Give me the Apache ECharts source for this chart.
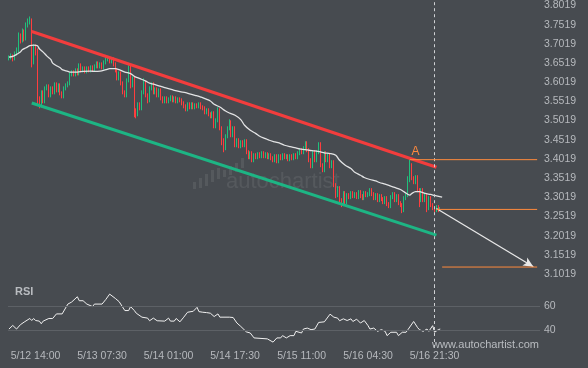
<!DOCTYPE html>
<html><head><meta charset="utf-8">
<script src="https://cdn.jsdelivr.net/npm/echarts@6/dist/echarts.min.js"></script>
<style>html,body{margin:0;padding:0;background:#474b50;}#c{width:588px;height:368px;}</style>
</head><body><div id="c"></div>
<script>
// ---- data ----
const tickIdx = [14, 49, 84, 119, 154, 189, 224];
const tickLabels = ['5/12 14:00', '5/13 07:30', '5/14 01:00', '5/14 17:30', '5/15 11:00', '5/16 04:30', '5/16 21:30'];
const slotCount = 280;

const firstOpen = 3.6640;
const closes = [3.6666,3.6718,3.6640,3.6770,3.6848,3.7238,3.7108,3.7368,3.7160,3.7524,
3.7577,3.7655,3.6536,3.6952,3.6796,3.5599,3.5417,3.5755,3.5521,3.5859,
3.5911,3.5677,3.5859,3.5755,3.5963,3.5807,3.5937,3.5729,3.5651,3.5859,
3.5937,3.5989,3.6223,3.6275,3.6223,3.6327,3.6249,3.6458,3.6327,3.6380,
3.6301,3.6380,3.6327,3.6406,3.6354,3.6432,3.6510,3.6432,3.6484,3.6406,
3.6536,3.6614,3.6640,3.6562,3.6614,3.6484,3.6327,3.6119,3.6249,3.5989,
3.5755,3.5677,3.6067,3.6406,3.5937,3.6119,3.5287,3.5183,3.5443,3.5339,
3.5755,3.6015,3.5677,3.5547,3.5859,3.5963,3.5755,3.5833,3.5677,3.5807,
3.5599,3.5521,3.5599,3.5521,3.5573,3.5625,3.5547,3.5599,3.5521,3.5573,
3.5547,3.5469,3.5391,3.5313,3.5443,3.5365,3.5443,3.5365,3.5417,3.5391,
3.5443,3.5365,3.5339,3.5235,3.5287,3.5183,3.5131,3.5209,3.4870,3.5026,
3.5287,3.4818,3.4506,3.4298,3.4610,3.4818,3.4974,3.4636,3.4818,3.4376,
3.4506,3.4350,3.4454,3.4376,3.4480,3.4194,3.4064,3.4168,3.3985,3.4116,
3.4064,3.4142,3.4090,3.4168,3.4090,3.4142,3.4064,3.4116,3.4038,3.3985,
3.4090,3.3959,3.4090,3.4038,3.4116,3.4064,3.4090,3.4012,3.4090,3.4038,
3.4116,3.4064,3.4168,3.4246,3.4194,3.4298,3.4428,3.4246,3.3985,3.3829,
3.4194,3.3985,3.4194,3.4402,3.3855,3.3725,3.4168,3.3985,3.4116,3.3829,
3.3933,3.3335,3.3075,3.3257,3.2945,3.2841,3.3127,3.2893,3.3075,3.3023,
3.3127,3.3049,3.3101,3.3023,3.3153,3.3049,3.2997,3.3127,3.3075,3.3101,
3.3205,3.3101,3.2997,3.3075,3.2945,3.3049,3.2971,3.2893,3.2997,3.2841,
3.2789,3.3023,3.3101,3.2945,3.3049,3.2867,3.2815,3.2684,3.2997,3.3075,
3.3465,3.3777,3.3517,3.3413,3.3543,3.3205,3.2945,3.3205,3.2945,3.3075,
3.2737,3.2997,3.2815,3.2737,3.2684,3.2763,3.2684,3.2711];

const highs = [3.6718,3.6770,3.6744,3.6822,3.6926,3.7316,3.7290,3.7420,3.7394,3.7577,
3.7681,3.7733,3.7681,3.7004,3.7004,3.6900,3.5651,3.5807,3.5807,3.5911,
3.5963,3.5963,3.5911,3.5911,3.6015,3.6015,3.5989,3.5989,3.5781,3.5911,
3.5989,3.6041,3.6275,3.6327,3.6327,3.6380,3.6380,3.6510,3.6510,3.6432,
3.6432,3.6432,3.6432,3.6458,3.6458,3.6484,3.6562,3.6562,3.6536,3.6536,
3.6588,3.6666,3.6666,3.6692,3.6666,3.6666,3.6536,3.6380,3.6301,3.6301,
3.6041,3.5807,3.6119,3.6458,3.6458,3.6171,3.6171,3.5339,3.5495,3.5495,
3.5807,3.6119,3.6067,3.5729,3.5911,3.6015,3.6015,3.5885,3.5885,3.5859,
3.5859,3.5651,3.5651,3.5651,3.5625,3.5677,3.5677,3.5651,3.5651,3.5625,
3.5625,3.5599,3.5521,3.5443,3.5495,3.5495,3.5495,3.5495,3.5469,3.5469,
3.5495,3.5495,3.5417,3.5391,3.5339,3.5339,3.5235,3.5261,3.5261,3.5078,
3.5365,3.5339,3.4870,3.4558,3.4662,3.4870,3.5052,3.5026,3.4870,3.4870,
3.4558,3.4558,3.4506,3.4506,3.4532,3.4532,3.4246,3.4220,3.4220,3.4168,
3.4168,3.4194,3.4194,3.4220,3.4220,3.4194,3.4194,3.4168,3.4168,3.4090,
3.4142,3.4142,3.4142,3.4142,3.4168,3.4168,3.4142,3.4142,3.4142,3.4142,
3.4168,3.4168,3.4220,3.4298,3.4298,3.4350,3.4480,3.4480,3.4298,3.4038,
3.4246,3.4246,3.4246,3.4454,3.4454,3.3907,3.4220,3.4220,3.4168,3.4168,
3.3985,3.3985,3.3387,3.3309,3.3309,3.2997,3.3179,3.3179,3.3127,3.3127,
3.3179,3.3179,3.3153,3.3153,3.3205,3.3205,3.3101,3.3179,3.3179,3.3153,
3.3257,3.3257,3.3153,3.3127,3.3127,3.3101,3.3101,3.3023,3.3049,3.3049,
3.2893,3.3075,3.3153,3.3153,3.3101,3.3101,3.2919,3.2867,3.3049,3.3127,
3.3569,3.4012,3.3907,3.3569,3.3595,3.3595,3.3257,3.3257,3.3257,3.3127,
3.3127,3.3049,3.3049,3.2867,3.2789,3.2815,3.2815,3.2763];

const lows = [3.6588,3.6614,3.6562,3.6588,3.6718,3.6796,3.7030,3.7056,3.7082,3.7108,
3.7446,3.7524,3.6406,3.6484,3.6718,3.5443,3.5339,3.5365,3.5469,3.5469,
3.5807,3.5625,3.5625,3.5703,3.5703,3.5755,3.5755,3.5677,3.5599,3.5599,
3.5807,3.5885,3.5937,3.6171,3.6171,3.6171,3.6197,3.6197,3.6275,3.6275,
3.6249,3.6249,3.6275,3.6275,3.6301,3.6301,3.6380,3.6380,3.6380,3.6354,
3.6354,3.6484,3.6562,3.6510,3.6510,3.6432,3.6275,3.6067,3.6067,3.5937,
3.5703,3.5625,3.5625,3.6015,3.5859,3.5885,3.5105,3.5078,3.5131,3.5287,
3.5287,3.5703,3.5625,3.5469,3.5495,3.5807,3.5703,3.5703,3.5625,3.5625,
3.5547,3.5469,3.5469,3.5469,3.5469,3.5521,3.5495,3.5495,3.5469,3.5469,
3.5495,3.5417,3.5339,3.5261,3.5261,3.5313,3.5313,3.5313,3.5313,3.5339,
3.5339,3.5313,3.5287,3.5183,3.5183,3.5131,3.5078,3.5078,3.4818,3.4818,
3.4974,3.4766,3.4376,3.4194,3.4246,3.4558,3.4766,3.4584,3.4584,3.4324,
3.4324,3.4298,3.4298,3.4324,3.4324,3.4142,3.4012,3.4012,3.3933,3.3933,
3.4012,3.4012,3.4038,3.4038,3.4038,3.4038,3.4012,3.4012,3.3985,3.3933,
3.3933,3.3907,3.3907,3.3985,3.3985,3.4012,3.4012,3.3959,3.3959,3.3985,
3.3985,3.4012,3.4012,3.4116,3.4142,3.4142,3.4246,3.4194,3.3933,3.3777,
3.3777,3.3933,3.3933,3.4142,3.3803,3.3673,3.3673,3.3933,3.3933,3.3777,
3.3777,3.3283,3.2997,3.3023,3.2893,3.2763,3.2789,3.2841,3.2841,3.2971,
3.2971,3.2997,3.2997,3.2971,3.2971,3.2997,3.2945,3.2945,3.3023,3.3023,
3.3049,3.3049,3.2945,3.2945,3.2893,3.2893,3.2919,3.2841,3.2841,3.2789,
3.2737,3.2737,3.2971,3.2893,3.2893,3.2815,3.2763,3.2606,3.2632,3.2945,
3.3023,3.3413,3.3465,3.3361,3.3361,3.3153,3.2763,3.2893,3.2893,3.2893,
3.2632,3.2684,3.2763,3.2684,3.2632,3.2632,3.2632,3.2658];

// moving average (white line), read as [bar index, price]
const maLine = [[0,3.6674],[2,3.6692],[4,3.6744],[6,3.6804],[7,3.6866],[9,3.6918],[11,3.6970],[13,3.6986],[15,3.6970],[16,3.6892],[18,3.6804],[20,3.6700],[22,3.6614],[23,3.6517],[25,3.6450],[27,3.6398],[28,3.6346],[31,3.6301],[32,3.6283],[36,3.6283],[39,3.6301],[43,3.6309],[45,3.6301],[48,3.6309],[51,3.6346],[53,3.6372],[56,3.6372],[58,3.6346],[61,3.6283],[64,3.6242],[66,3.6171],[69,3.6111],[72,3.6049],[74,3.5997],[77,3.5955],[80,3.5911],[82,3.5877],[85,3.5841],[87,3.5807],[90,3.5773],[93,3.5747],[95,3.5716],[98,3.5677],[101,3.5633],[106,3.5529],[108,3.5443],[111,3.5372],[114,3.5268],[116,3.5216],[119,3.5157],[122,3.5045],[124,3.4896],[127,3.4766],[130,3.4680],[132,3.4610],[135,3.4550],[137,3.4506],[140,3.4462],[143,3.4420],[145,3.4376],[148,3.4337],[151,3.4306],[153,3.4280],[156,3.4264],[158,3.4246],[161,3.4228],[164,3.4202],[166,3.4176],[169,3.4160],[172,3.4116],[174,3.3985],[177,3.3855],[180,3.3769],[182,3.3673],[185,3.3595],[187,3.3535],[190,3.3483],[193,3.3447],[195,3.3405],[198,3.3361],[201,3.3309],[203,3.3275],[206,3.3223],[208,3.3161],[211,3.3075],[212,3.3119],[214,3.3166],[216,3.3166],[219,3.3119],[222,3.3093],[224,3.3067],[228,3.3023]];

// RSI read as [bar index, value]
const rsiLine = [[0,40.8],[1,40.8],[2,43.8],[3,44.4],[4,40.8],[6,44.4],[8,46.6],[9,47.9],[11,49.6],[12,47.9],[13,49.6],[14,47.9],[16,47.4],[17,45.2],[18,47.4],[21,49.6],[23,49.6],[25,53.4],[28,53.4],[31,61.6],[33,63.3],[36,67.7],[37,64.4],[39,64.4],[41,61.6],[44,59.5],[45,61.6],[49,61.6],[51,65.5],[53,69.9],[56,66.3],[58,63.6],[61,56.2],[63,56.2],[64,59.5],[66,56.2],[67,54.0],[70,50.7],[73,49.9],[74,47.7],[76,49.9],[78,47.7],[82,47.4],[84,49.9],[85,47.4],[87,47.4],[88,49.6],[90,46.8],[92,50.7],[94,54.8],[97,55.6],[99,58.9],[100,55.3],[102,54.8],[103,56.2],[104,54.5],[106,54.0],[108,51.2],[110,53.4],[111,50.7],[116,50.7],[118,50.4],[120,45.8],[122,43.0],[123,41.6],[125,38.4],[127,37.5],[129,33.4],[136,32.6],[137,32.1],[139,29.9],[141,33.4],[143,33.4],[144,35.3],[146,33.4],[148,35.3],[150,35.3],[151,38.9],[154,37.5],[155,40.8],[157,41.6],[159,40.3],[161,40.8],[163,46.3],[166,46.8],[167,47.9],[169,53.2],[171,50.7],[173,49.9],[174,47.7],[176,49.3],[178,47.9],[180,49.3],[181,47.1],[183,49.0],[185,45.8],[187,47.9],[189,43.6],[190,40.8],[192,41.6],[194,38.9],[196,40.3],[198,38.9],[199,35.3],[201,38.1],[204,38.1],[205,35.3],[207,38.1],[209,38.1],[210,40.3],[211,40.8],[213,47.1],[215,42.2],[216,40.3],[218,38.9],[220,40.8],[221,38.9],[223,43.6],[224,38.1],[226,40.3],[227,40.8]];

// pattern annotations
const channelUpper = [[12, 3.7342], [225, 3.3803]];
const channelLower = [[12, 3.5476], [225, 3.2034]];
const levelA = [[211, 3.4000], [278, 3.4000]];
const levelNow = [[225, 3.2703], [278, 3.2703]];
const levelTarget = [[228, 3.1201], [278, 3.1201]];
const arrowFrom = [225, 3.2728];
const arrowTo = [276, 3.1210];
const markerA = [214, 3.4000];
const nowIndex = 224;
const rsiLevels = [40, 60];

// ---- chart ----
const cats = Array.from({length: slotCount}, (_, i) => String(i));
const opens = [firstOpen].concat(closes.slice(0, -1));
const ohlc = closes.map((c, i) => [opens[i], c, lows[i], highs[i]]);

const FONT = "'Liberation Sans', Arial, sans-serif";
const LBL = '#b6b9bd';
const ORANGE = '#ff8a3d';

const chart = echarts.init(document.getElementById('c'), null, {renderer: 'canvas'});
const yMin = 3.0519, yStep = 0.05;
chart.setOption({
  animation: false,
  backgroundColor: '#474b50',
  textStyle: {fontFamily: FONT},
  grid: [
    {left: 8, right: 48, top: 0, height: 293.2},
    {left: 8, right: 48, top: 282, height: 66}
  ],
  xAxis: [
    {gridIndex: 0, type: 'category', data: cats, boundaryGap: true, show: false},
    {gridIndex: 1, type: 'category', data: cats, boundaryGap: true,
     axisLine: {show: false}, axisTick: {show: false}, splitLine: {show: false},
     axisLabel: {color: LBL, fontSize: 10.5, fontFamily: FONT, margin: 3,
       interval: (i) => tickIdx.indexOf(i) >= 0,
       formatter: (v, i) => { const k = tickIdx.indexOf(Number(v)); return k >= 0 ? tickLabels[k] : ''; }}}
  ],
  yAxis: [
    {gridIndex: 0, type: 'value', position: 'right', min: yMin, max: 3.8149, interval: yStep, scale: true,
     axisLine: {show: false}, axisTick: {show: false}, splitLine: {show: false},
     axisLabel: {color: LBL, fontSize: 10.5, fontFamily: FONT, margin: 4,
       formatter: (v) => { const k = (v - yMin) / yStep; if (v < 3.09 || v > 3.81 || Math.abs(k - Math.round(k)) > 0.01) return ''; return v.toFixed(4); }}},
    {gridIndex: 1, type: 'value', position: 'right', min: 25, max: 80, interval: 5,
     axisLine: {show: false}, axisTick: {show: false}, splitLine: {show: false},
     axisLabel: {color: LBL, fontSize: 10.5, fontFamily: FONT, margin: 4,
       formatter: (v) => (rsiLevels.indexOf(v) >= 0 ? String(v) : '')}}
  ],
  graphic: [
    {type: 'group', z: 0, silent: true, children: [
      {type: 'rect', shape: {x: 193, y: 182, width: 3, height: 7}, style: {fill: 'rgba(255,255,255,0.08)'}},
      {type: 'rect', shape: {x: 199, y: 178, width: 3, height: 10}, style: {fill: 'rgba(255,255,255,0.08)'}},
      {type: 'rect', shape: {x: 205, y: 174, width: 3, height: 12}, style: {fill: 'rgba(255,255,255,0.08)'}},
      {type: 'rect', shape: {x: 211, y: 170, width: 3, height: 12}, style: {fill: 'rgba(255,255,255,0.08)'}},
      {type: 'rect', shape: {x: 217, y: 168, width: 3, height: 11}, style: {fill: 'rgba(255,255,255,0.08)'}},
      {type: 'rect', shape: {x: 223, y: 170, width: 3, height: 7}, style: {fill: 'rgba(255,255,255,0.08)'}},
      {type: 'rect', shape: {x: 229, y: 166, width: 3, height: 9}, style: {fill: 'rgba(255,255,255,0.08)'}},
      {type: 'rect', shape: {x: 235, y: 163, width: 3, height: 9}, style: {fill: 'rgba(255,255,255,0.08)'}},
      {type: 'rect', shape: {x: 241, y: 158, width: 3, height: 10}, style: {fill: 'rgba(255,255,255,0.08)'}},
      {type: 'text', x: 226, y: 171, style: {text: 'autochartist', fill: 'rgba(255,255,255,0.08)', font: "22px 'Liberation Sans', Arial, sans-serif", textVerticalAlign: 'top'}}
    ]},
    {type: 'text', left: 15, top: 286, z: 10, style: {text: 'RSI', fill: '#b9bcc0', font: "bold 11px 'Liberation Sans', Arial, sans-serif"}},
    {type: 'text', left: 432, top: 339, z: 10, style: {text: 'www.autochartist.com', fill: '#b9bcc0', font: "11px 'Liberation Sans', Arial, sans-serif"}}
  ],
  series: [
    {type: 'candlestick', xAxisIndex: 0, yAxisIndex: 0, data: ohlc, barWidth: 1, z: 2,
     itemStyle: {color: '#1fc07c', color0: '#ff3e3e', borderColor: '#1fc07c', borderColor0: '#ff3e3e', borderWidth: 1},
     markLine: {silent: true, symbol: ['none', 'none'], label: {show: false},
       lineStyle: {color: '#cfd1d4', type: [3, 3], width: 1},
       data: [{xAxis: nowIndex}]}},
    {type: 'line', xAxisIndex: 0, yAxisIndex: 0, data: maLine, showSymbol: false, smooth: 0.3, z: 3,
     lineStyle: {color: '#e2e3e4', width: 1.3}},
    {type: 'line', xAxisIndex: 0, yAxisIndex: 0, data: channelUpper, showSymbol: false, z: 4,
     lineStyle: {color: '#f23d3d', width: 3}},
    {type: 'line', xAxisIndex: 0, yAxisIndex: 0, data: channelLower, showSymbol: false, z: 4,
     lineStyle: {color: '#1db584', width: 3}},
    {type: 'line', xAxisIndex: 0, yAxisIndex: 0, data: levelA, showSymbol: false, z: 5,
     lineStyle: {color: ORANGE, width: 1},
     markPoint: {silent: true, data: [{coord: markerA, symbol: 'circle', symbolSize: 1,
       itemStyle: {color: 'rgba(0,0,0,0)'},
       label: {show: true, formatter: 'A', position: 'top', distance: 1, color: ORANGE, fontSize: 12, fontFamily: FONT}}]}},
    {type: 'line', xAxisIndex: 0, yAxisIndex: 0, data: levelNow, showSymbol: false, z: 5,
     lineStyle: {color: ORANGE, width: 1}},
    {type: 'line', xAxisIndex: 0, yAxisIndex: 0, data: levelTarget, showSymbol: false, z: 5,
     lineStyle: {color: ORANGE, width: 1},
     markLine: {silent: true, symbol: ['none', 'arrow'], symbolSize: [7, 10], label: {show: false},
       lineStyle: {color: '#e8e8e8', width: 1.3, type: 'solid'},
       data: [[{coord: arrowFrom}, {coord: arrowTo}]]}},
    {type: 'line', xAxisIndex: 1, yAxisIndex: 1, data: rsiLine, showSymbol: false, z: 3,
     lineStyle: {color: '#f0f0f0', width: 1},
     markLine: {silent: true, symbol: ['none', 'none'], label: {show: false},
       data: [
         {yAxis: rsiLevels[0], lineStyle: {color: '#5d6166', width: 1, type: 'solid'}},
         {yAxis: rsiLevels[1], lineStyle: {color: '#5d6166', width: 1, type: 'solid'}},
         {xAxis: nowIndex, lineStyle: {color: '#cfd1d4', width: 1, type: [3, 3]}}
       ]}}
  ]
});
</script></body></html>
